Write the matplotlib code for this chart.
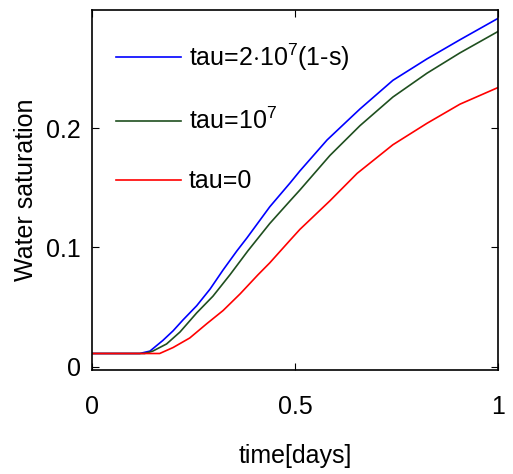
import numpy as np
import matplotlib.pyplot as plt
from matplotlib import font_manager

# narrow font if there is one, otherwise plain Liberation Sans a bit smaller
names = {f.name for f in font_manager.fontManager.ttflist}
if 'Liberation Sans Narrow' in names:
    fam, fs = 'Liberation Sans Narrow', 20
else:
    fam, fs = 'Liberation Sans', 18
plt.rcParams['font.family'] = [fam, 'DejaVu Sans']
plt.rcParams['mathtext.fontset'] = 'custom'
plt.rcParams['mathtext.rm'] = fam

# values
t_blue = [0.0, 0.118, 0.143, 0.175, 0.2, 0.224, 0.258, 0.291, 0.323, 0.357, 0.382, 0.438, 0.488,
          0.512, 0.579, 0.635, 0.66, 0.741, 0.825, 0.906, 1.0]
s_blue = [0.011, 0.011, 0.013, 0.022, 0.030, 0.039, 0.051, 0.065, 0.081, 0.097, 0.108, 0.134, 0.154,
          0.164, 0.190, 0.208, 0.216, 0.240, 0.258, 0.274, 0.292]

t_green = [0.0, 0.13, 0.15, 0.184, 0.217, 0.258, 0.298, 0.34, 0.384, 0.438, 0.488, 0.512, 0.586,
           0.66, 0.741, 0.825, 0.906, 1.0]
s_green = [0.011, 0.011, 0.013, 0.019, 0.029, 0.045, 0.059, 0.077, 0.097, 0.120, 0.139, 0.148, 0.177,
           0.202, 0.226, 0.246, 0.263, 0.281]

t_red = [0.0, 0.15, 0.167, 0.2, 0.241, 0.283, 0.323, 0.365, 0.409, 0.438, 0.488, 0.512, 0.586,
         0.653, 0.741, 0.825, 0.906, 1.0]
s_red = [0.011, 0.011, 0.011, 0.016, 0.024, 0.036, 0.047, 0.061, 0.077, 0.087, 0.106, 0.115, 0.139,
         0.162, 0.186, 0.204, 0.220, 0.234]

labels = [r'tau=2$\cdot$10$^7$(1-s)', r'tau=10$^7$', 'tau=0']

fig = plt.figure(figsize=(5.13, 4.74), dpi=100)
ax = fig.add_axes([0.179, 0.219, 0.792, 0.760])

ax.plot(t_blue, s_blue, color='#0000ff', lw=1.2, label=labels[0])
ax.plot(t_green, s_green, color='#1f4f1f', lw=1.2, label=labels[1])
ax.plot(t_red, s_red, color='#ff0000', lw=1.2, label=labels[2])

ax.set_xlim(0, 1)
ax.set_ylim(-0.003, 0.299)
ax.set_xticks([0, 0.5, 1])
ax.set_xticklabels(['0', '0.5', '1'])
ax.set_yticks([0, 0.1, 0.2])
ax.set_yticklabels(['0', '0.1', '0.2'])
ax.tick_params(direction='in', top=True, right=True, length=5, labelsize=fs)
ax.tick_params(axis='x', pad=18)
ax.tick_params(axis='y', pad=8)
for sp in ax.spines.values():
    sp.set_linewidth(1.2)

ax.set_xlabel('time[days]', fontsize=fs, labelpad=18)
ax.set_ylabel('Water saturation', fontsize=fs, labelpad=6)

ax.legend(loc='upper left', frameon=False, fontsize=fs, labelspacing=1.4,
          handlelength=2.6, handletextpad=0.3, borderaxespad=0,
          bbox_to_anchor=(0.035, 0.94))

fig.savefig('out.png', dpi=100)
